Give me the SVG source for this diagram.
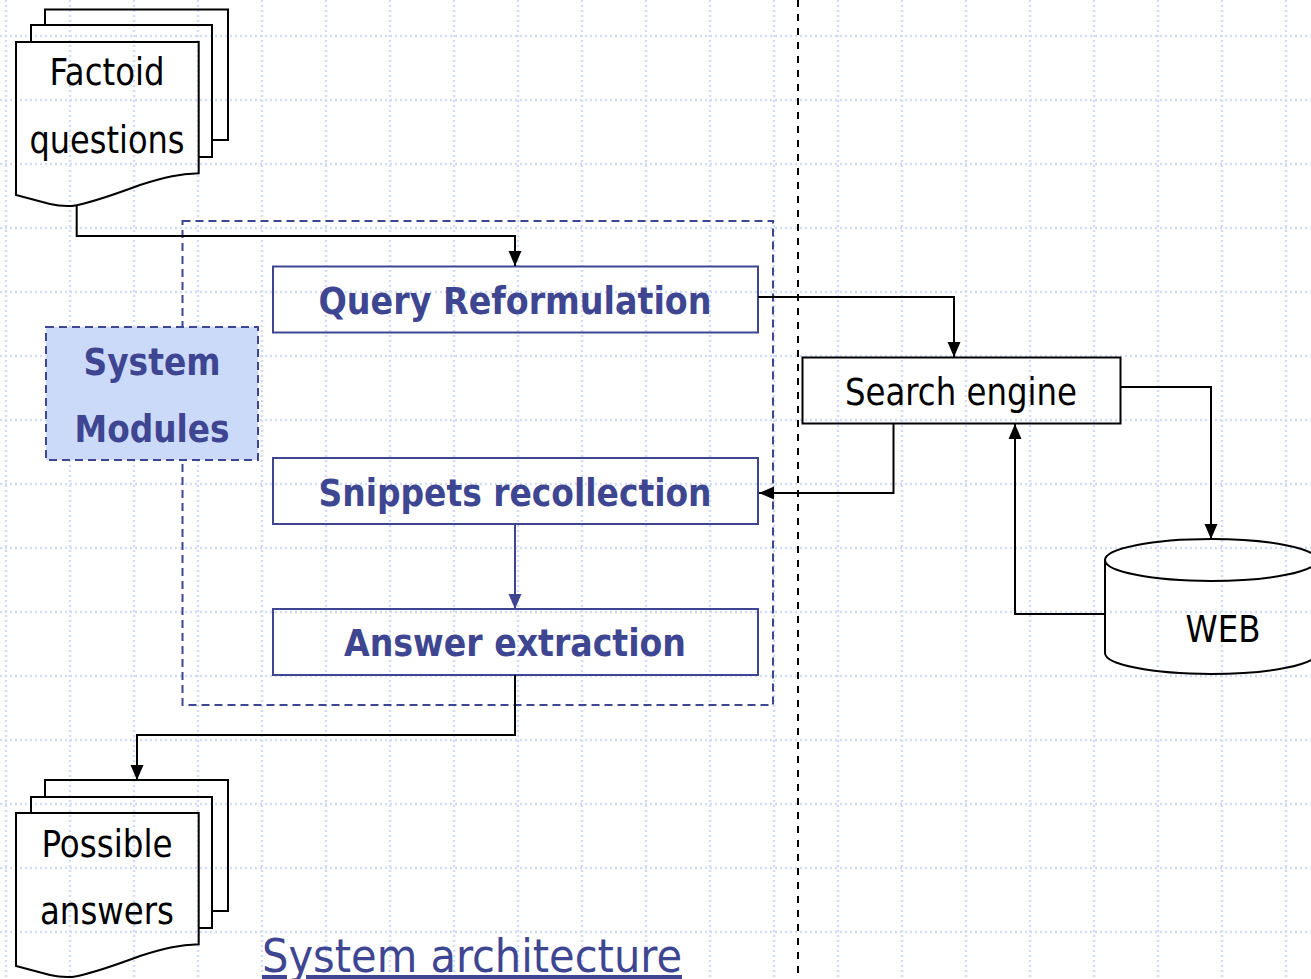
<svg xmlns="http://www.w3.org/2000/svg" width="1311" height="979" viewBox="0 0 1311 979">
<style>
.grid{fill:none;stroke:#d2dcf9;stroke-width:2.5;stroke-dasharray:2 3}
.doc{fill:none;stroke:#000;stroke-width:2}
.mod{fill:none;stroke:#3e4591;stroke-width:2}
.blk{fill:none;stroke:#000;stroke-width:2}
.conn{fill:none;stroke:#000;stroke-width:2}
.connb{fill:none;stroke:#3e4591;stroke-width:2}
.lbl{font-family:"DejaVu Sans Condensed","DejaVu Sans",sans-serif;font-stretch:condensed;font-size:37px;fill:#000;text-anchor:middle}
.blbl{font-family:"DejaVu Sans Condensed","DejaVu Sans",sans-serif;font-stretch:condensed;font-weight:bold;font-size:37px;fill:#3e4591;text-anchor:middle}
.title{font-family:"DejaVu Sans Condensed","DejaVu Sans",sans-serif;font-stretch:condensed;font-size:46px;fill:#3e4591;text-decoration:underline}
</style>
<defs>
<marker id="ah" markerUnits="userSpaceOnUse" markerWidth="15" markerHeight="14" viewBox="0 0 15 14" refX="15" refY="7" orient="auto"><path d="M0,0.5 L15,7 L0,13.5 z" fill="#000"/></marker>
<marker id="ahb" markerUnits="userSpaceOnUse" markerWidth="15" markerHeight="14" viewBox="0 0 15 14" refX="15" refY="7" orient="auto"><path d="M0,0.5 L15,7 L0,13.5 z" fill="#3e4591"/></marker>
</defs>
<rect width="1311" height="979" fill="#fff"/>
<path class="grid" d="M6,0V979M70,0V979M134,0V979M198,0V979M262,0V979M326,0V979M390,0V979M454,0V979M518,0V979M582,0V979M646,0V979M710,0V979M774,0V979M838,0V979M902,0V979M966,0V979M1030,0V979M1094,0V979M1158,0V979M1222,0V979M1286,0V979M0,36H1311M0,100H1311M0,164H1311M0,228H1311M0,292H1311M0,356H1311M0,420H1311M0,484H1311M0,548H1311M0,612H1311M0,676H1311M0,740H1311M0,804H1311M0,868H1311M0,932H1311"/>
<path d="M798,0V979" fill="none" stroke="#000" stroke-width="2" stroke-dasharray="7 7"/>
<g id="container">
<rect x="182.5" y="221" width="590.5" height="484" fill="none" stroke="#3e4591" stroke-width="2" stroke-dasharray="8 5"/>
</g>
<g id="system-modules">
<rect x="46" y="327" width="212" height="133" fill="#ccdaf9" stroke="#3e4591" stroke-width="2" stroke-dasharray="8 5"/>
<text class="blbl" x="152" y="375" textLength="137" lengthAdjust="spacingAndGlyphs">System</text>
<text class="blbl" x="152" y="442" textLength="155" lengthAdjust="spacingAndGlyphs">Modules</text>
</g>
<g id="factoid-questions">
<path class="doc" d="M45,25V9.5H228V140H212.5"/>
<path class="doc" d="M31,42V25H212V157H199"/>
<path class="doc" d="M16,42H198.7V173.3C180,174 166,176.5 140,185C115,194 92,203 72,206C62,206.5 58,206 50,204L16,195Z"/>
<text class="lbl" x="107" y="85" textLength="115" lengthAdjust="spacingAndGlyphs">Factoid</text>
<text class="lbl" x="107" y="153" textLength="155" lengthAdjust="spacingAndGlyphs">questions</text>
</g>
<g id="possible-answers">
<path class="doc" d="M45,796V780H228V911H212.5"/>
<path class="doc" d="M31,813V797H212V928H199"/>
<path class="doc" d="M16,813H198.7V944.3C180,945 166,947.5 140,956C115,965 92,974 72,977C62,977.5 58,977 50,975L16,966Z"/>
<text class="lbl" x="107" y="857" textLength="131" lengthAdjust="spacingAndGlyphs">Possible</text>
<text class="lbl" x="107" y="924" textLength="134" lengthAdjust="spacingAndGlyphs">answers</text>
</g>
<g id="query-reformulation">
<rect class="mod" x="273" y="266.5" width="485" height="66"/>
<text class="blbl" x="515" y="314" textLength="393" lengthAdjust="spacingAndGlyphs">Query Reformulation</text>
</g>
<g id="snippets-recollection">
<rect class="mod" x="273" y="458" width="485" height="66"/>
<text class="blbl" x="515" y="506" textLength="393" lengthAdjust="spacingAndGlyphs">Snippets recollection</text>
</g>
<g id="answer-extraction">
<rect class="mod" x="273" y="609" width="485" height="66"/>
<text class="blbl" x="515" y="656" textLength="342" lengthAdjust="spacingAndGlyphs">Answer extraction</text>
</g>
<g id="search-engine">
<rect class="blk" x="802.5" y="357.5" width="318" height="66"/>
<text class="lbl" x="961" y="405" textLength="232" lengthAdjust="spacingAndGlyphs">Search engine</text>
</g>
<g id="web">
<path class="blk" d="M1105,560V653A106,21 0 0 0 1317,653V560"/>
<ellipse class="blk" cx="1211" cy="560" rx="106" ry="21"/>
<text class="lbl" x="1223" y="642" textLength="75" lengthAdjust="spacingAndGlyphs">WEB</text>
</g>
<g id="connectors">
<path class="conn" d="M76.7,206V236H515V266" marker-end="url(#ah)"/>
<path class="conn" d="M758,297H954V357" marker-end="url(#ah)"/>
<path class="conn" d="M893.5,423.5V493H759" marker-end="url(#ah)"/>
<path class="conn" d="M1121,387H1211V539" marker-end="url(#ah)"/>
<path class="conn" d="M1105,614H1015V424" marker-end="url(#ah)"/>
<path class="connb" d="M515,524V609" marker-end="url(#ahb)"/>
<path class="conn" d="M515,675V735H137V780" marker-end="url(#ah)"/>
</g>
<text class="title" x="262" y="972" textLength="420" lengthAdjust="spacingAndGlyphs">System architecture</text>
</svg>
